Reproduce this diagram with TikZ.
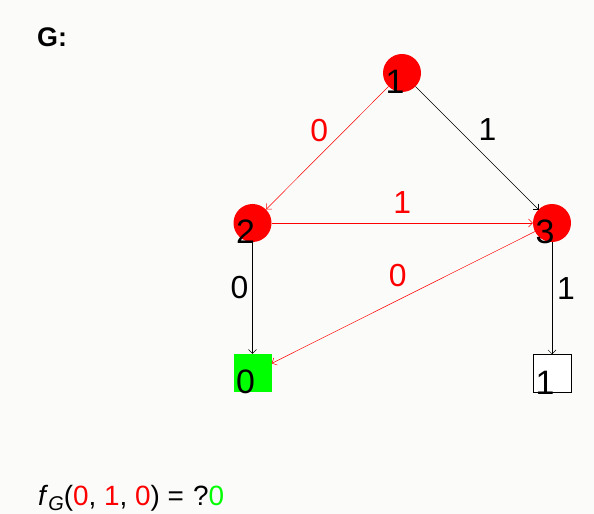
\documentclass[tikz,border=0pt]{standalone}
\usepackage{fontspec}
\setmainfont{Liberation Sans}
\usetikzlibrary{arrows.meta}
\definecolor{bgcol}{RGB}{251,252,250}
\definecolor{vred}{RGB}{255,0,0}
\definecolor{vgreen}{RGB}{0,255,0}
\begin{document}
\begin{tikzpicture}[x=1bp,y=-1bp,
  >={Straight Barb[length=4bp,width=8bp]},
  vertex/.style={circle,fill=vred,minimum size=38bp,inner sep=0pt},
  leaf/.style={rectangle,minimum width=38bp,minimum height=38bp,inner sep=0pt},
  vname/.style={font=\fontsize{34}{38}\selectfont,inner sep=0pt,xshift=-7bp,yshift=-9bp},
  elabel/.style={font=\fontsize{32}{36}\selectfont,inner sep=0pt},
  redge/.style={->,draw=vred,line width=0.5bp},
  bedge/.style={->,draw=black,line width=0.5bp}]
\path[use as bounding box,fill=bgcol] (0,0) rectangle (594,514);
\node[anchor=base west,inner sep=0pt,font=\bfseries\fontsize{27}{30}\selectfont] (title) at (37,47) {G:};
% decision nodes
\node[vertex,label={[vname]center:1}] (N1) at (402,73) {};
\node[vertex,label={[vname]center:2}] (N2) at (252.5,223) {};
\node[vertex,label={[vname]center:3}] (N3) at (552,223) {};
% terminal nodes
\node[leaf,fill=vgreen,label={[vname]center:0}] (L0) at (252.5,373) {};
\node[leaf,draw=black,line width=0.5bp,fill=white,label={[vname]center:1}] (L1) at (552,373.5) {};
% edges
\draw[redge] (N1) -- node[elabel,midway,xshift=-8bp,yshift=17.5bp,text=vred]{0} (N2);
\draw[bedge] (N1) -- node[elabel,midway,xshift=10.5bp,yshift=18bp]{1} (N3);
\draw[redge] (N2) -- node[elabel,midway,yshift=20bp,text=vred]{1} (N3);
\draw[bedge] (N2) -- node[elabel,pos=0.41,xshift=-13bp]{0} (L0);
\draw[redge] (N3) -- node[elabel,midway,xshift=-5.5bp,yshift=21.5bp,text=vred]{0} (L0);
\draw[bedge] (N3) -- node[elabel,pos=0.41,xshift=14bp]{1} (L1);
% result
\node[anchor=base west,inner sep=0pt,font=\fontsize{28}{32}\selectfont] (result) at (38,505)
  {\textit{f}\raisebox{-0.2em}{\fontsize{20}{22}\selectfont\itshape G}(\textcolor{vred}{0}, \textcolor{vred}{1}, \textcolor{vred}{0}) = \hspace{0.05em}?\textcolor{vgreen}{0}};
\end{tikzpicture}
\end{document}
